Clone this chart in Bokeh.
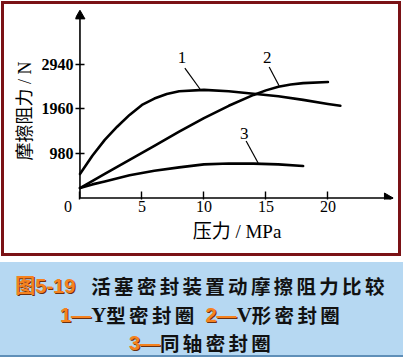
import math
from bokeh.plotting import figure
from bokeh.layouts import column
from bokeh.models import Div, FixedTicker
from bokeh.core.properties import value
from bokeh.embed import file_html
from bokeh.resources import INLINE

# ---- data ----
pressure_1 = [0, 1, 2, 3, 4, 5, 6, 7, 8, 10, 12, 14, 16, 18, 20, 21]
friction_1 = [528, 930, 1280, 1570, 1830, 2050, 2190, 2290, 2350, 2380, 2350, 2295, 2240, 2160, 2070, 2030]

pressure_2 = [0, 2, 4, 6, 8, 10, 12, 14, 15, 16, 17, 18, 20]
friction_2 = [220, 530, 840, 1150, 1460, 1760, 2030, 2270, 2370, 2450, 2500, 2530, 2555]

pressure_3 = [0, 1, 2, 4, 6, 8, 10, 12, 14, 16, 18]
friction_3 = [220, 300, 365, 500, 600, 675, 740, 760, 758, 740, 705]

curve_names = ["1", "2", "3"]
x_ticks = [0, 5, 10, 15, 20]
y_ticks = [980, 1960, 2940]
x_title = "压力 / MPa"
y_title = "摩擦阻力 / N"

# label annotation anchors (text position, leader start, leader end)
label_x = [8.22, 15.1, 13.24]
label_y = [3083, 3083, 1431]
leader_x0 = [8.46, 15.26, 13.4]
leader_y0 = [2862, 2884, 1255]
leader_x1 = [9.68, 16.07, 14.37]
leader_y1 = [2400, 2466, 771]

# axis extents (arrow tips)
x_axis_end = 25.24
y_axis_end = 4118

SERIF = "'Liberation Serif', 'Noto Sans CJK SC'"

p = figure(width=403, height=258, output_backend="svg", toolbar_location=None,
           x_range=(-0.36, 25.69), y_range=(-33, 4261),
           min_border_left=75, min_border_right=5, min_border_top=4, min_border_bottom=59,
           background_fill_color="white", border_fill_color="white")
p.outline_line_color = None
p.grid.visible = False

for ax in (p.xaxis, p.yaxis):
    ax.axis_line_color = None
    ax.major_tick_line_color = "black"
    ax.major_tick_line_width = 1.4
    ax.major_tick_out = 0
    ax.minor_tick_line_color = None
    ax.major_label_text_color = "black"
    ax.axis_label_text_color = "black"
    ax.axis_label_text_font_style = "normal"
    ax.axis_label_text_font = SERIF

p.yaxis.major_tick_in = 9
p.xaxis.major_tick_in = 8
p.xaxis.ticker = FixedTicker(ticks=x_ticks)
p.xaxis.major_label_overrides = {0: "0\u2007\u2007\u2007"}
p.yaxis.ticker = FixedTicker(ticks=y_ticks)
p.xaxis.major_label_text_font = "Liberation Serif"
p.xaxis.major_label_text_font_size = "16px"
p.xaxis.major_label_standoff = -2
p.yaxis.major_label_text_font = "Liberation Serif"
p.yaxis.major_label_text_font_size = "16px"
p.yaxis.major_label_text_font_style = "bold"
p.yaxis.major_label_standoff = 2
p.xaxis.axis_label = x_title
p.yaxis.axis_label = y_title + "\u2007\u2007"
p.xaxis.axis_label_text_font_size = "19px"
p.yaxis.axis_label_text_font_size = "18px"
p.xaxis.axis_label_standoff = 3
p.yaxis.axis_label_standoff = 4

# axis lines with arrow heads
p.line([0, x_axis_end], [0, 0], line_color="black", line_width=1.6)
p.line([0, 0], [0, y_axis_end], line_color="black", line_width=1.6)
p.scatter(x=[x_axis_end - 0.45], y=[0], marker="triangle", size=10, angle=-math.pi / 2,
          fill_color="black", line_color="black", line_width=1)
p.scatter(x=[0], y=[y_axis_end - 110], marker="triangle", size=10,
          fill_color="black", line_color="black", line_width=1)

# curves
for xs, ys in ((pressure_1, friction_1), (pressure_2, friction_2), (pressure_3, friction_3)):
    p.line(xs, ys, line_color="black", line_width=2.6, line_join="round", line_cap="round")

# leader lines and curve numbers
p.segment(x0=leader_x0, y0=leader_y0, x1=leader_x1, y1=leader_y1, line_color="black", line_width=1.2)
p.text(x=label_x, y=label_y, text=curve_names, text_font=value("Liberation Serif"),
       text_font_size="17px", text_align="center", text_baseline="middle", text_color="black")

LH = 28.5
IB = f"display:inline-block;height:{LH}px;line-height:{LH}px;vertical-align:top;overflow:visible;"
OR = (IB + "color:#f5821f;text-shadow:1px 1px 0 #6b3010;letter-spacing:0;font-size:20px;"
      "font-family:'Liberation Sans','Noto Sans CJK SC';")
SER = IB + "font-family:'Liberation Serif';letter-spacing:0;font-size:21px;"
CJ = IB + "letter-spacing:3.3px;"
LINE = f"height:{LH}px;line-height:{LH}px;white-space:nowrap;overflow:visible;"


def s(style, txt):
    return f"<span style=\"{style}\">{txt}</span>"


def gap(w):
    return f"<span style=\"{IB}width:{w}px;\"></span>"


caption_html = (
    "<div style=\"width:403px;margin:0;padding-top:10px;font-size:19.5px;font-weight:bold;"
    "text-align:center;color:#111;font-family:'Noto Sans CJK SC';\">"
    f"<div style=\"{LINE}\">{s(OR, '图5-19')}{gap(16)}{s(CJ, '活塞密封装置动摩擦阻力比较')}</div>"
    f"<div style=\"{LINE}\">{s(OR, '1—')}{s(SER, 'Y')}{s(CJ, '型密封圈')}{gap(8)}"
    f"{s(OR, '2—')}{s(SER, 'V')}{s(CJ, '形密封圈')}</div>"
    f"<div style=\"{LINE}\">{s(OR, '3—')}{s(CJ, '同轴密封圈')}</div>"
    "</div>"
)
caption = Div(text=caption_html, width=403, height=95,
              styles={"background-color": "#b6d8f2", "border-bottom": "2px solid #5f8fb8",
                      "box-sizing": "border-box", "padding": "0", "margin": "0"})

layout = column(p, caption, spacing=4)

html = file_html(layout, INLINE)
css = ("<style>html,body{margin:0!important;padding:0;overflow:hidden;}"
       "body::after{content:'';position:fixed;left:1px;top:1px;width:400px;height:255px;"
       "border:3px solid #7a1216;box-sizing:border-box;pointer-events:none;z-index:100;}</style>")
html = html.replace("<head>", "<head>" + css, 1)
open("out.html", "w").write(html)
